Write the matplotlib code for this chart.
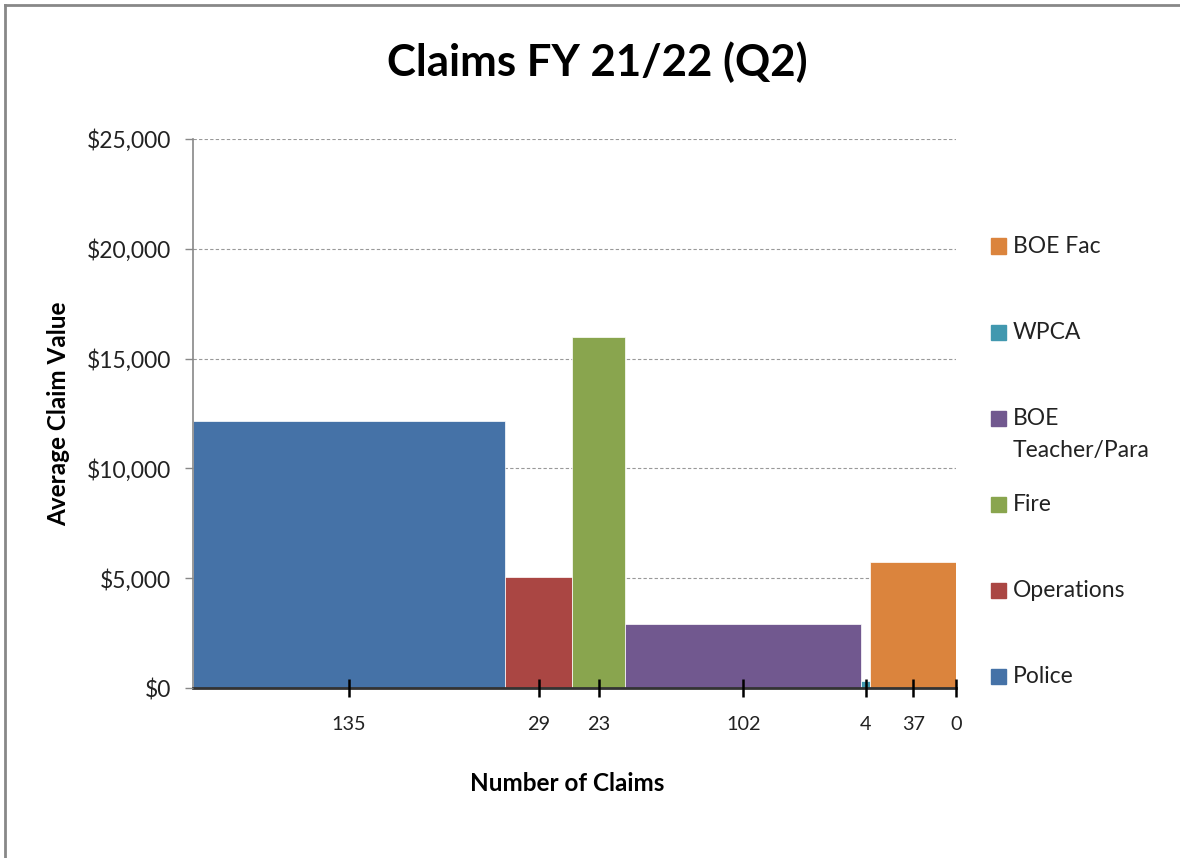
import numpy as np
import matplotlib
matplotlib.use("Agg")
import matplotlib.pyplot as plt
from matplotlib.lines import Line2D
from matplotlib.patches import Rectangle
from matplotlib.ticker import FuncFormatter, MultipleLocator

# data (7th group has no claims and no legend entry)
groups = ["Police", "Operations", "Fire", "BOE\nTeacher/Para", "WPCA", "BOE Fac", ""]
n_claims = [135, 29, 23, 102, 4, 37, 0]
avg_value = [12150, 5050, 16000, 2900, 300, 5750, 0]
colors = ["#4572A7", "#AA4643", "#89A54E", "#71588F", "#4198AF", "#DB843D", "#999999"]

plt.rcParams["font.family"] = ["Lato", "DejaVu Sans"]

W, H = 1180, 858
fig = plt.figure(figsize=(W / 100, H / 100), dpi=100)
ax = fig.add_axes([193 / W, 1 - 688 / H, (956 - 193) / W, (688 - 139) / H])

widths = np.array(n_claims, dtype=float)
lefts = np.concatenate([[0], np.cumsum(widths)[:-1]])
centers = lefts + widths / 2
ax.bar(lefts, avg_value, width=widths, align="edge", color=colors,
       edgecolor="white", linewidth=0.5, zorder=2)

ax.set_xlim(0, widths.sum())
ax.set_ylim(0, 25000)
ax.yaxis.set_major_locator(MultipleLocator(5000))
ax.yaxis.set_major_formatter(FuncFormatter(lambda v, p: f"${v:,.0f}"))
# gridlines behind the bars, ticks and spines in front
ax.set_axisbelow(False)
for yv in ax.get_yticks()[1:]:
    ax.axhline(yv, color="#999999", linestyle=(0, (3, 2)), linewidth=0.8, zorder=0.5)

ax.set_xticks(centers)
ax.set_xticklabels([str(n) for n in n_claims])
ax.tick_params(axis="x", direction="inout", length=13, width=1.8, color="black",
               labelsize=14.3, pad=14, labelcolor="#222222")
ax.tick_params(axis="y", direction="out", length=6, width=1, color="#888888",
               labelsize=16.5, pad=10, labelcolor="#222222")

for s in ["top", "right"]:
    ax.spines[s].set_visible(False)
ax.spines["left"].set_color("#888888")
ax.spines["left"].set_linewidth(1.2)
ax.spines["bottom"].set_color("#333333")
ax.spines["bottom"].set_linewidth(2)

ax.set_xlabel("Number of Claims", fontsize=17.5, fontweight="bold")
ax.xaxis.set_label_coords(0.491, -0.153)
ax.set_ylabel("Average Claim Value", fontsize=17.5, fontweight="bold", labelpad=12)
fig.text(597 / W, 1 - 62 / H, "Claims FY 21/22 (Q2)", ha="center", va="center",
         fontsize=31.5, fontweight="bold")

# legend, drawn by hand to match the spacing of the original
for i, k in enumerate(range(5, -1, -1)):
    yc = 1 - (246 + 86 * i) / H
    fig.add_artist(Rectangle((991 / W, yc - 7.5 / H), 15 / W, 15 / H,
                             transform=fig.transFigure, color=colors[k]))
    fig.text(1013 / W, yc + 10 / H, groups[k], ha="left", va="top", fontsize=16.5,
             color="#222222", linespacing=1.65)

# outer chart border
fig.add_artist(Line2D([5 / W, 1], [1 - 5 / H, 1 - 5 / H], transform=fig.transFigure,
                      color="#888888", linewidth=2))
fig.add_artist(Line2D([5 / W, 5 / W], [0, 1 - 5 / H], transform=fig.transFigure,
                      color="#888888", linewidth=2))

fig.savefig("out.png", dpi=100)
